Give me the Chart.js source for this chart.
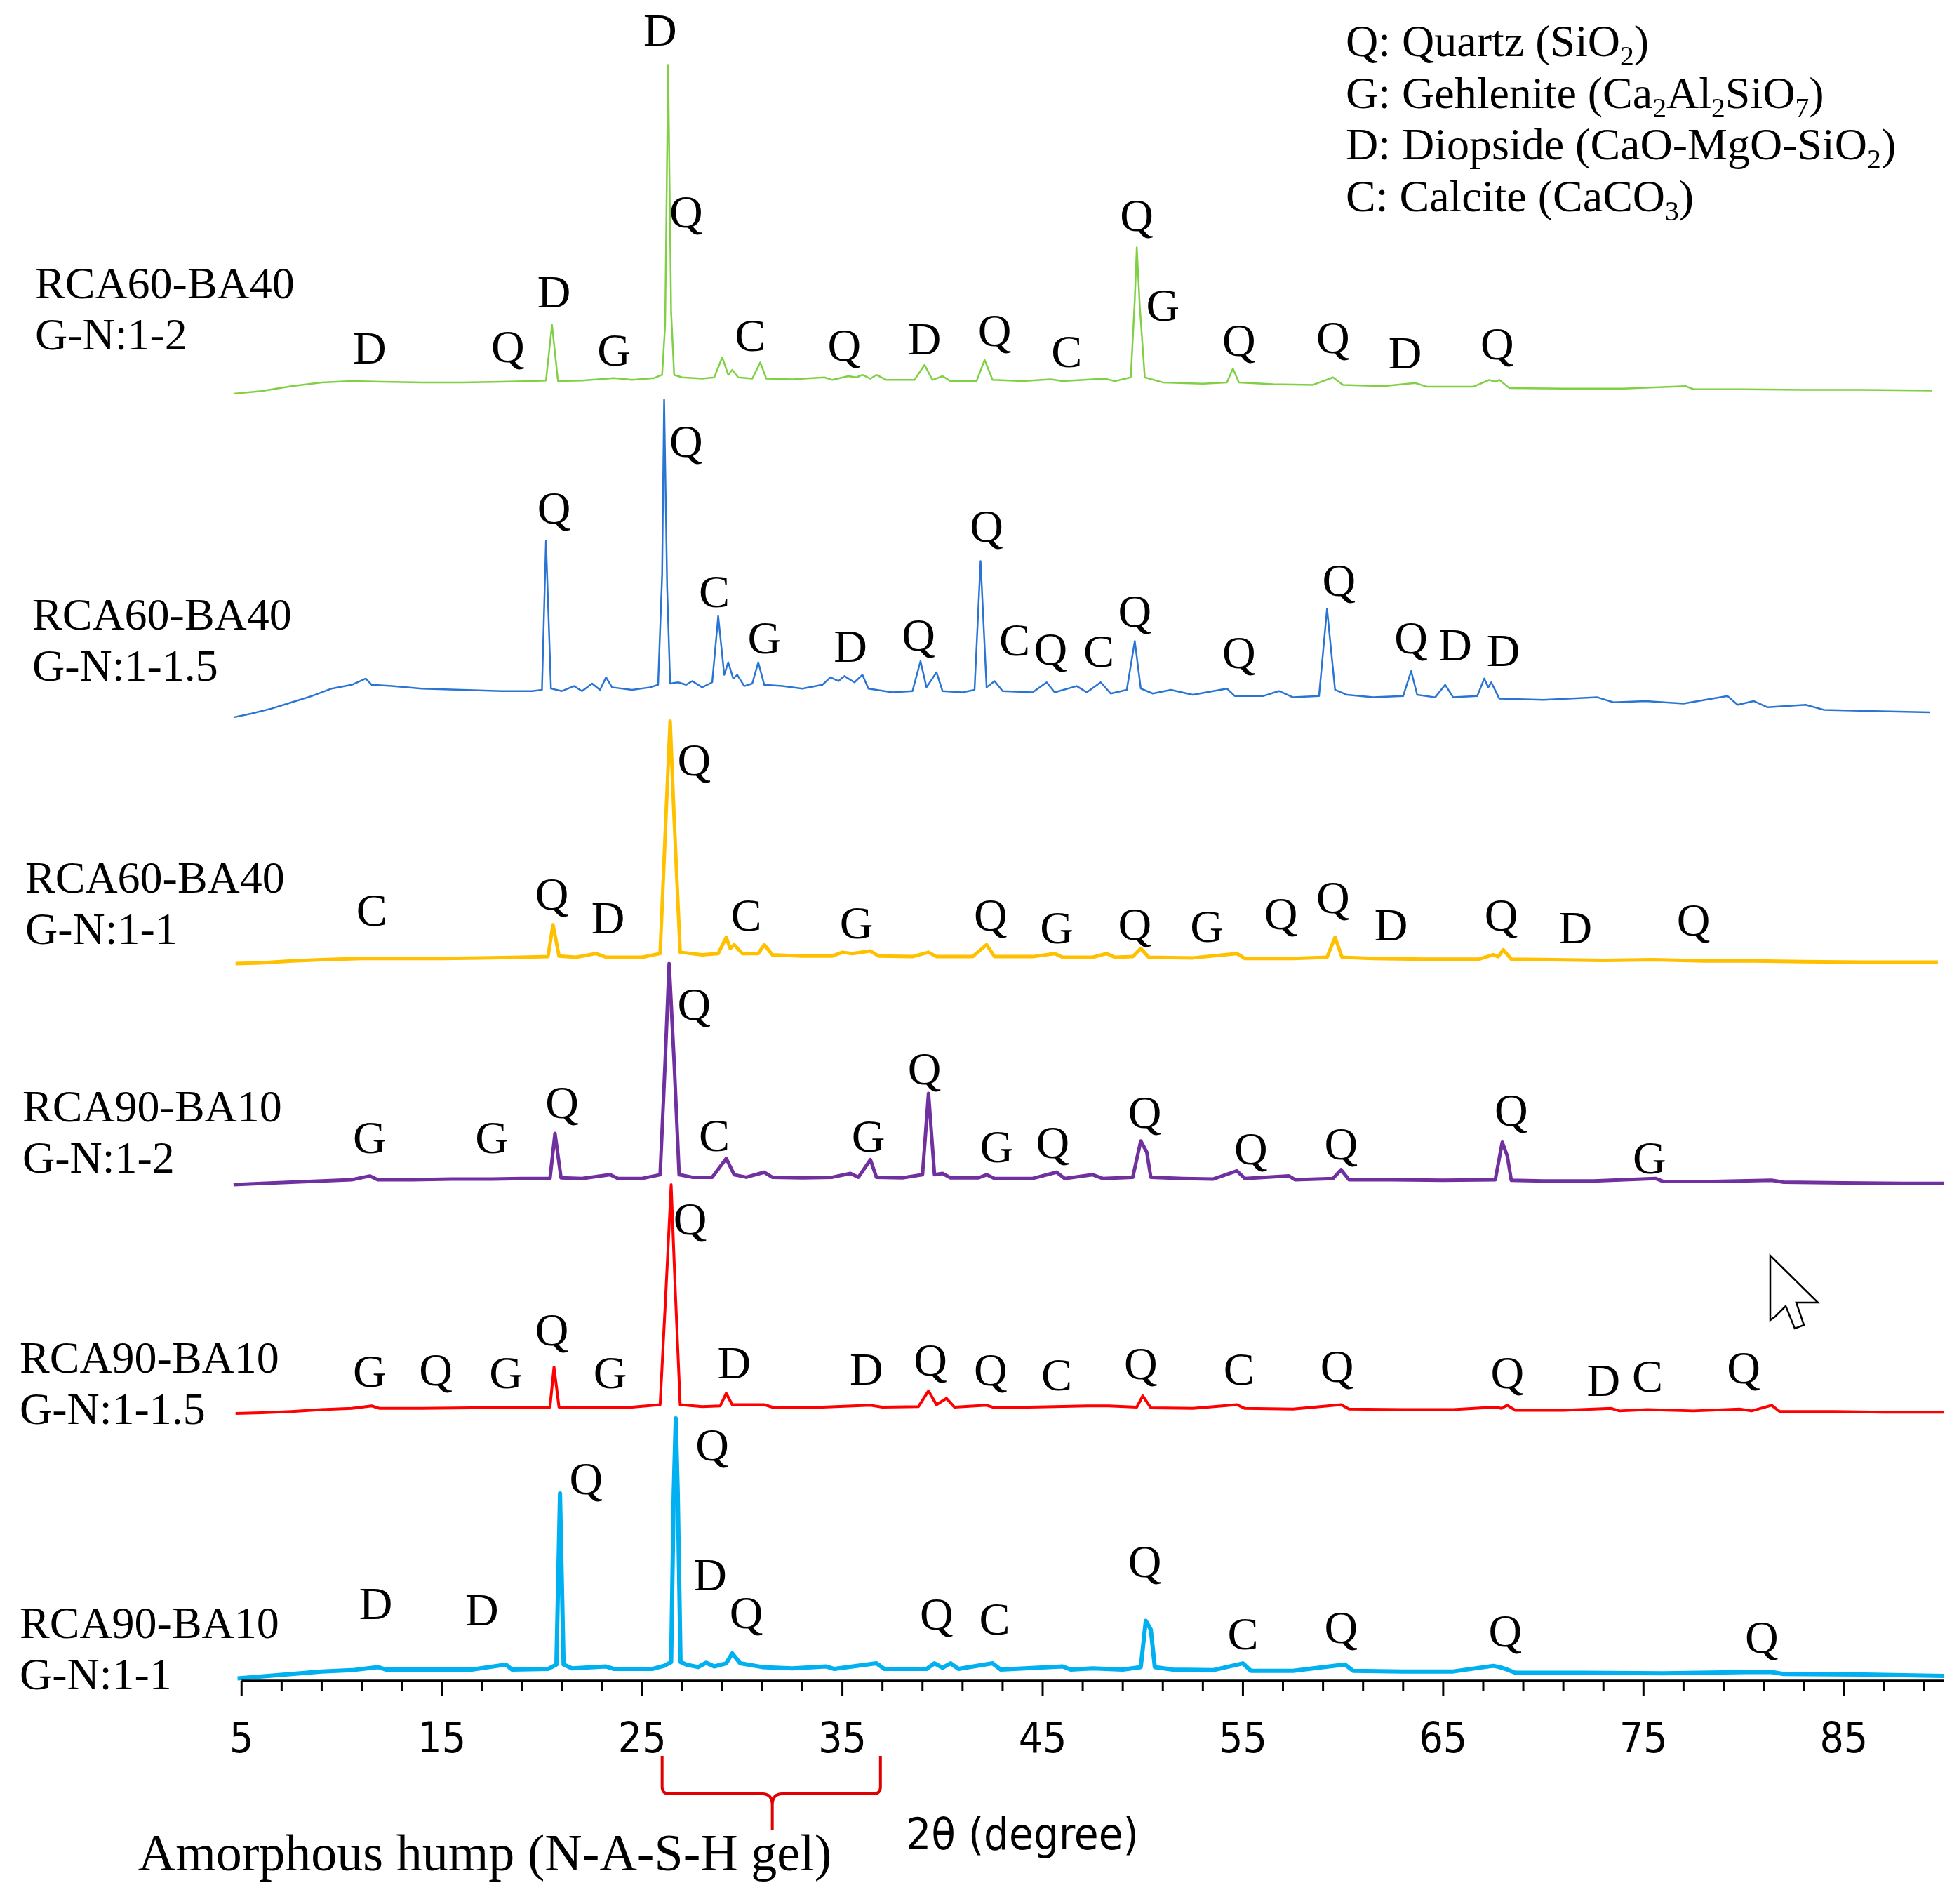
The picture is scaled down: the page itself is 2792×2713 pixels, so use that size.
<!DOCTYPE html>
<html>
<head>
<meta charset="utf-8">
<script src="https://cdn.jsdelivr.net/npm/chart.js@4.4.1/dist/chart.umd.min.js"></script>
<style>
  html, body { margin: 0; padding: 0; background: #fff; }
  canvas { display: block; }
</style>
</head>
<body>
<canvas id="xrd" width="2792" height="2713"></canvas>
<script>
// 2theta (deg) / relative intensity, top trace first
const ptsRca60Gn12 = [[4.6,0],[6.0,2],[7.5,6],[9.0,9],[10.5,10],[12.0,9.5],[14.0,9],[16.0,9],[18.0,9.5],[19.5,10],[20.2,10.5],[20.5,55],[20.8,10],[22.0,10.5],[23.6,12.5],[24.5,11],[25.6,12.5],[26.0,15],[26.15,55],[26.3,263],[26.45,65],[26.6,15],[27.0,13],[28.0,12],[28.6,13],[29.0,29],[29.3,15],[29.5,19],[29.8,13],[30.5,12],[30.9,25],[31.2,12],[32.5,11.5],[34.1,13],[34.5,11],[35.3,14],[35.7,13],[36.0,15],[36.4,12],[36.7,15],[37.2,11],[38.6,11],[39.1,23],[39.5,11],[40.0,14],[40.4,10],[41.7,10],[42.1,27],[42.5,11],[44.0,10],[45.4,11.5],[46.0,10],[48.1,12],[48.6,10],[49.4,13],[49.6,75],[49.7,117],[49.85,70],[50.1,13],[51.0,9],[53.0,8],[54.2,9],[54.5,20],[54.8,9],[56.5,7.5],[58.5,7],[59.5,13],[60.0,7],[62.0,6],[63.6,8.5],[64.2,5.5],[66.5,5.5],[67.3,11],[67.6,9.5],[67.8,11],[68.3,4.5],[71.0,4],[74.0,4],[77.1,6],[77.5,3.5],[80.0,3.5],[83.0,3],[86.0,3],[89.4,2.5]];
const ptsRca60Gn115 = [[4.6,1],[5.5,4],[6.5,8],[7.5,13],[8.5,18],[9.5,24],[10.5,27],[11.2,32],[11.5,27],[12.5,26],[14.0,24],[16.0,23],[18.0,22],[19.5,22],[20.0,23],[20.2,142],[20.45,24],[21.0,22],[21.6,26],[22.0,22],[22.5,28],[22.9,23],[23.2,33],[23.5,25],[24.5,23],[25.4,25],[25.8,27],[26.0,115],[26.1,255],[26.25,105],[26.4,28],[26.8,29],[27.2,27],[27.5,30],[28.0,25],[28.5,29],[28.8,82],[29.1,35],[29.3,45],[29.55,32],[29.75,35],[30.1,26],[30.5,28],[30.8,45],[31.1,27],[32.0,26],[33.0,24],[34.0,27],[34.4,33],[34.8,30],[35.1,34],[35.6,29],[36.0,35],[36.3,24],[37.5,21],[38.5,22],[38.9,46],[39.2,25],[39.7,37],[40.0,22],[41.0,21],[41.6,23],[41.9,126],[42.2,25],[42.6,30],[43.0,22],[44.5,21],[45.2,29],[45.6,21],[46.7,26],[47.2,21],[47.9,29],[48.4,20],[49.2,23],[49.6,62],[49.9,24],[50.5,20],[51.4,23],[52.5,19],[54.2,24],[54.6,18],[56.0,18],[56.8,22],[57.5,17],[58.8,18],[59.2,88],[59.4,55],[59.6,23],[60.2,19],[61.5,17],[63.0,18],[63.4,38],[63.7,19],[64.6,17],[65.1,27],[65.5,17],[66.7,18],[67.05,32],[67.25,25],[67.4,29],[67.8,16],[70.0,15],[72.7,17],[73.5,13],[75.1,14],[77.0,12],[79.2,18],[79.7,11],[80.5,14],[81.2,9],[83.1,11],[84.0,7],[86.5,6],[89.3,5]];
const ptsRca60Gn11 = [[4.7,1],[6.0,1.5],[7.5,3],[9.0,4],[11.0,5],[13.0,5],[15.0,5],[17.0,5.5],[19.0,6],[20.3,6.5],[20.55,32],[20.85,7],[21.7,6],[22.7,9],[23.2,6],[25.0,6],[25.9,9],[26.2,122],[26.4,195],[26.6,117],[26.9,10],[28.0,8],[28.8,9],[29.2,22],[29.4,13],[29.6,16],[30.0,9],[30.8,9],[31.1,16],[31.5,8],[33.0,7],[34.5,7],[35.0,10],[35.5,9],[36.4,11],[36.8,7],[38.5,6.5],[39.3,10],[39.7,6.5],[41.5,6.5],[42.2,16],[42.6,6.5],[44.5,6.5],[45.6,9],[46.0,6],[47.5,6],[48.2,9],[48.6,6],[49.5,6.5],[49.9,13],[50.3,6],[52.5,5.5],[54.7,9],[55.1,5],[57.5,5],[59.2,6],[59.6,22],[59.95,6],[61.5,5],[64.0,4.5],[66.8,4.5],[67.5,8],[67.75,6.5],[68.0,12],[68.4,4.5],[70.5,4],[73.0,3.5],[75.5,4],[78.0,3],[80.5,3],[83.0,2.5],[86.0,2],[89.7,2]];
const ptsRca90Gn12 = [[4.6,1],[6.0,2],[7.5,3],[9.0,4],[10.5,5],[11.4,8],[11.8,5],[13.5,5],[15.5,5.5],[17.5,5.5],[19.0,6],[20.4,6],[20.65,42],[20.95,6.5],[22.0,6],[23.4,9],[23.8,6],[25.0,6],[25.9,9],[26.15,99],[26.35,178],[26.6,99],[26.85,9],[27.5,7],[28.5,7],[29.2,22],[29.6,9],[30.2,7],[31.1,11],[31.5,7],[33.0,6.5],[34.5,7],[35.4,10],[35.8,7],[36.4,21],[36.7,7],[38.0,6.5],[39.0,9],[39.3,74],[39.6,9],[40.0,10],[40.4,6.5],[41.8,6.5],[42.2,9],[42.6,6],[44.5,6],[45.7,11],[46.1,6],[47.5,9],[48.0,6],[49.5,7],[49.9,36],[50.2,27],[50.4,7],[52.0,6],[53.5,5.5],[54.7,12],[55.1,6],[57.3,8],[57.6,5],[59.5,6],[59.9,13],[60.3,5],[62.5,5],[65.0,4.5],[67.6,5],[67.95,35],[68.2,24],[68.4,4.5],[70.0,4],[72.5,4],[75.6,6],[76.0,3.5],[78.5,3.5],[81.4,4.5],[82.0,3],[85.0,2.5],[88.0,2],[90.0,2]];
const ptsRca90Gn115 = [[4.7,1],[6.0,1.5],[7.5,2.5],[9.0,4],[10.5,5],[11.5,7],[11.9,5],[14.0,5],[16.5,5.5],[18.5,5.5],[20.4,6],[20.6,38],[20.85,6],[22.5,6],[24.5,6],[25.9,8],[26.2,102],[26.45,184],[26.65,102],[26.9,8],[28.0,6.5],[28.9,7],[29.2,17],[29.5,8],[31.1,8],[31.5,6],[34.0,6],[36.4,7.5],[37.0,6],[38.8,6.5],[39.3,19],[39.7,8],[40.2,13],[40.6,6],[42.2,7.5],[42.6,5.5],[45.6,6.5],[47.2,7],[48.3,7],[49.7,6],[50.0,15],[50.4,5.5],[52.5,5],[54.7,8],[55.1,5],[57.5,4.5],[59.9,8],[60.3,4.5],[63.0,4],[65.5,4],[67.6,6],[67.9,5],[68.2,7.5],[68.6,3.5],[71.0,3.5],[73.4,5],[73.8,3],[75.2,4],[77.5,3],[79.8,4.5],[80.4,3],[81.4,7.5],[81.8,2.5],[84.5,2.5],[87.0,2],[90.0,2]];
const ptsRca90Gn11 = [[4.8,1],[6.0,2.5],[7.5,4.5],[9.0,6.5],[10.5,7.5],[11.8,10],[12.2,8],[14.5,8],[16.5,8],[18.2,12],[18.5,8],[20.3,8.5],[20.72,12],[20.9,149],[21.08,12],[21.5,9],[23.2,10.5],[23.6,8.5],[25.5,8.5],[26.1,11],[26.45,14],[26.58,150],[26.68,209],[26.78,150],[26.92,14],[27.2,12],[27.8,10],[28.2,13.5],[28.6,10.5],[29.2,13],[29.5,21],[29.9,13],[31.0,10],[32.5,9],[34.2,10.5],[34.6,8.5],[36.7,13],[37.1,8.5],[39.2,8.5],[39.6,13],[40.0,9.5],[40.4,13],[40.8,8.5],[42.5,13],[42.9,8],[46.0,10.5],[46.4,8],[47.5,9],[49.0,8],[49.9,10],[50.15,47],[50.4,40],[50.6,10],[51.5,8],[53.5,7.5],[55.0,13],[55.4,7],[57.5,7],[60.1,12],[60.5,7],[63.0,6.5],[65.5,6.5],[67.5,11],[67.8,10],[68.2,8],[68.6,5.5],[72.0,5.5],[76.0,5],[80.2,6],[81.4,6],[82.0,4.5],[86.0,4],[90.0,3]];

const tracePoints = [ptsRca60Gn12, ptsRca60Gn115, ptsRca60Gn11, ptsRca90Gn12, ptsRca90Gn115, ptsRca90Gn11];
const traceOffsets = [1030, 770, 573, 396, 213, 1];
const sampleNames = [
  ["RCA60-BA40", "G-N:1-2"],
  ["RCA60-BA40", "G-N:1-1.5"],
  ["RCA60-BA40", "G-N:1-1"],
  ["RCA90-BA10", "G-N:1-2"],
  ["RCA90-BA10", "G-N:1-1.5"],
  ["RCA90-BA10", "G-N:1-1"]
];

// phase marks: [2theta, height on the stacked scale, phase]
const phaseMarks = [
  [25.9,1318,"D"],[27.2,1173,"Q"],[49.7,1170,"Q"],[51.0,1098,"G"],[20.6,1109,"D"],[11.4,1064,"D"],[18.3,1065,"Q"],[23.6,1062,"G"],[30.4,1074,"C"],[35.1,1066,"Q"],[39.1,1071,"D"],[42.6,1078,"Q"],[46.2,1061,"C"],[54.8,1070,"Q"],[59.5,1072,"Q"],[63.1,1060,"D"],[67.7,1067,"Q"],
  [27.2,989,"Q"],[20.6,936,"Q"],[42.2,921,"Q"],[28.6,869,"C"],[31.1,832,"G"],[35.4,825,"D"],[38.8,834,"Q"],[43.6,830,"C"],[45.4,823,"Q"],[47.8,821,"C"],[49.6,853,"Q"],[54.8,820,"Q"],[59.8,878,"Q"],[63.4,832,"Q"],[65.6,826,"D"],[68.0,822,"D"],
  [27.6,734,"Q"],[11.5,614,"C"],[20.5,627,"Q"],[23.3,608,"D"],[30.2,610,"C"],[35.7,604,"G"],[42.4,610,"Q"],[45.7,600,"G"],[49.6,603,"Q"],[53.2,601,"G"],[56.9,611,"Q"],[59.5,624,"Q"],[62.4,602,"D"],[67.9,610,"Q"],[71.6,600,"D"],[77.5,606,"Q"],
  [27.6,539,"Q"],[39.1,487,"Q"],[21.0,460,"Q"],[11.4,432,"G"],[17.5,432,"G"],[28.6,434,"C"],[36.3,433,"G"],[42.7,425,"G"],[45.5,428,"Q"],[50.1,452,"Q"],[55.4,423,"Q"],[59.9,427,"Q"],[68.4,454,"Q"],[75.3,416,"G"],
  [27.4,367,"Q"],[20.5,278,"Q"],[11.4,245,"G"],[14.7,246,"Q"],[18.2,244,"G"],[23.4,244,"G"],[29.6,252,"D"],[36.2,247,"D"],[39.4,254,"Q"],[42.4,246,"Q"],[45.7,242,"C"],[49.9,251,"Q"],[54.8,247,"C"],[59.7,249,"Q"],[68.2,244,"Q"],[73.0,238,"D"],[75.2,241,"C"],[80.0,248,"Q"],
  [28.5,186,"Q"],[22.2,159,"Q"],[28.4,82,"D"],[50.1,93,"Q"],[11.7,59,"D"],[17.0,54,"D"],[30.2,52,"Q"],[39.7,51,"Q"],[42.6,47,"C"],[55.0,35,"C"],[59.9,40,"Q"],[68.1,37,"Q"],[80.9,32,"Q"]
];

const legendLines = [
  ["Q: Quartz (SiO", "_2", ")"],
  ["G: Gehlenite (Ca", "_2", "Al", "_2", "SiO", "_7", ")"],
  ["D: Diopside (CaO-MgO-SiO", "_2", ")"],
  ["C: Calcite (CaCO", "_3", ")"]
];

const majorTicks = [5, 15, 25, 35, 45, 55, 65, 75, 85];
const minorTicks = [5,7,9,11,13,15,17,19,21,23,25,27,29,31,33,35,37,39,41,43,45,47,49,51,53,55,57,59,61,63,65,67,69,71,73,75,77,79,81,83,85,87,89];
const humpRange = [26.0, 36.9, 31.5];

const traceColors = ["#7fd043", "#2a74d4", "#ffc000", "#7030a0", "#ff0000", "#00b0f0"];
const traceWidths = [2.5, 2.5, 5, 5, 4, 6];

const SERIF = '"Liberation Serif", "Times New Roman", serif';
const NARROW = '"Liberation Sans Narrow", "DejaVu Sans Condensed", "Liberation Sans", sans-serif';

const decorPlugin = {
  id: "decor",
  afterDraw(chart) {
    const { ctx, chartArea } = chart;
    const xs = chart.scales.x;
    const ys = chart.scales.y;
    ctx.save();

    // axis line and ticks
    const yAxis = chartArea.bottom;
    ctx.strokeStyle = "#000";
    ctx.lineWidth = 3.5;
    ctx.beginPath();
    ctx.moveTo(xs.getPixelForValue(5), yAxis);
    ctx.lineTo(xs.getPixelForValue(90), yAxis);
    ctx.stroke();
    ctx.lineWidth = 3;
    minorTicks.forEach((v) => {
      const len = majorTicks.includes(v) ? 22 : 14;
      const px = xs.getPixelForValue(v);
      ctx.beginPath();
      ctx.moveTo(px, yAxis);
      ctx.lineTo(px, yAxis + len);
      ctx.stroke();
    });

    // phase letters
    ctx.fillStyle = "#000";
    ctx.font = "66px " + SERIF;
    ctx.textAlign = "center";
    ctx.textBaseline = "middle";
    phaseMarks.forEach(([a, h, t]) => {
      ctx.fillText(t, xs.getPixelForValue(a), ys.getPixelForValue(h));
    });

    // sample names
    ctx.font = "64px " + SERIF;
    ctx.textAlign = "left";
    const nameX = [50, 46, 36, 32, 28, 28];
    const nameY = [408, 880, 1255, 1581, 1939, 2317];
    sampleNames.forEach((lines, i) => {
      ctx.fillText(lines[0], nameX[i], nameY[i]);
      ctx.fillText(lines[1], nameX[i], nameY[i] + 73);
    });

    // legend
    ctx.textBaseline = "alphabetic";
    const size = 64;
    legendLines.forEach((parts, i) => {
      let cx = 1918;
      const by = 80 + i * 73.7;
      parts.forEach((p) => {
        const sub = p.startsWith("_");
        const txt = sub ? p.slice(1) : p;
        ctx.font = (sub ? size * 0.62 : size) + "px " + SERIF;
        ctx.fillText(txt, cx, sub ? by + 13 : by);
        cx += ctx.measureText(txt).width;
      });
    });

    // axis title
    ctx.font = "63px " + NARROW;
    ctx.textAlign = "center";
    ctx.textBaseline = "middle";
    ctx.fillText("2\u03b8 (degree)", 1457, 2619);

    // amorphous hump bracket
    const xa = xs.getPixelForValue(humpRange[0]);
    const xb = xs.getPixelForValue(humpRange[1]);
    const xm = xs.getPixelForValue(humpRange[2]);
    ctx.strokeStyle = "#e00000";
    ctx.lineWidth = 4;
    ctx.beginPath();
    ctx.moveTo(xa, 2502);
    ctx.lineTo(xa, 2546);
    ctx.quadraticCurveTo(xa, 2556, xa + 10, 2556);
    ctx.lineTo(xm - 14, 2556);
    ctx.quadraticCurveTo(xm, 2556, xm, 2572);
    ctx.lineTo(xm, 2608);
    ctx.moveTo(xb, 2502);
    ctx.lineTo(xb, 2546);
    ctx.quadraticCurveTo(xb, 2556, xb - 10, 2556);
    ctx.lineTo(xm + 14, 2556);
    ctx.quadraticCurveTo(xm, 2556, xm, 2572);
    ctx.stroke();

    ctx.fillStyle = "#000";
    ctx.font = "74px " + SERIF;
    ctx.fillText("Amorphous hump (N-A-S-H gel)", 691, 2646);

    // mouse pointer left in the screenshot
    const cx0 = 2523, cy0 = 1789;
    const arrow = [[0,0],[0,92],[7,87],[22,72],[35,104],[48,99],[37,67],[68,67]];
    ctx.beginPath();
    arrow.forEach(([dx, dy], i) => (i ? ctx.lineTo(cx0 + dx, cy0 + dy) : ctx.moveTo(cx0 + dx, cy0 + dy)));
    ctx.closePath();
    ctx.fillStyle = "#fff";
    ctx.fill();
    ctx.strokeStyle = "#000";
    ctx.lineWidth = 2.5;
    ctx.stroke();

    ctx.restore();
  }
};

new Chart(document.getElementById("xrd"), {
  type: "line",
  data: {
    datasets: tracePoints.map((pts, i) => ({
      label: sampleNames[i].join(" "),
      data: pts.map(([a, v]) => ({ x: a, y: v + traceOffsets[i] })),
      borderColor: traceColors[i],
      borderWidth: traceWidths[i],
      borderJoinStyle: "round",
      pointRadius: 0,
      tension: 0,
      fill: false
    }))
  },
  options: {
    responsive: false,
    devicePixelRatio: 1,
    animation: false,
    layout: { padding: { left: 330, right: 5, top: 0, bottom: 0 } },
    plugins: { legend: { display: false }, tooltip: { enabled: false } },
    scales: {
      x: {
        type: "linear",
        min: 4.5,
        max: 90.5,
        border: { display: false },
        grid: { display: false, drawTicks: false },
        afterBuildTicks: (scale) => {
          scale.ticks = minorTicks.map((v) => ({ value: v }));
        },
        afterFit: (scale) => {
          scale.height = 318;
        },
        ticks: {
          autoSkip: false,
          maxRotation: 0,
          padding: 50,
          color: "#000",
          font: { family: NARROW, size: 60 },
          callback: (value) => (majorTicks.includes(value) ? String(value) : "")
        }
      },
      y: {
        display: false,
        min: 0,
        max: 1345
      }
    }
  },
  plugins: [decorPlugin]
});
</script>
</body>
</html>
